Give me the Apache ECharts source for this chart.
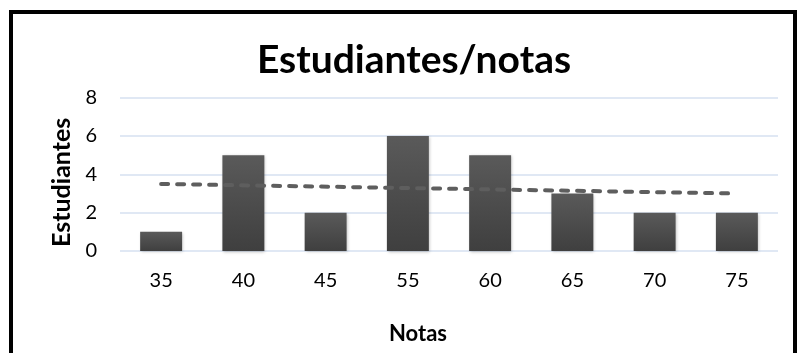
<!DOCTYPE html>
<html>
<head>
<meta charset="utf-8">
<script src="https://cdn.jsdelivr.net/npm/echarts@6/dist/echarts.min.js"></script>
<style>
  html, body { margin: 0; padding: 0; background: #fff; }
  #chart { width: 799px; height: 353px; }
</style>
</head>
<body>
<div id="chart"></div>
<script>
// Grades (x categories) and number of students per grade
const notas = ['35', '40', '45', '55', '60', '65', '70', '75'];
const estudiantes = [1, 5, 2, 6, 5, 3, 2, 2];
// Linear trend line endpoints (first and last category)
const tendencia = [['35', 3.5], ['75', 3.0]];
// Y axis ticks
const yTicks = [0, 2, 4, 6, 8];

const FONT = 'Lato';
const chart = echarts.init(document.getElementById('chart'), null, { renderer: 'canvas' });

chart.setOption({
  animation: false,
  backgroundColor: '#ffffff',
  title: {
    text: 'Estudiantes/notas',
    left: 409,
    top: 36,
    textAlign: 'center',
    textStyle: { fontFamily: FONT, fontWeight: 'bold', fontSize: 39, color: '#000' }
  },
  graphic: [{
    type: 'rect',
    shape: { x: 11, y: 12, width: 784, height: 400 },
    style: { fill: 'none', stroke: '#000', lineWidth: 4 },
    z: 100
  }],
  grid: { left: 120, right: 21, top: 97.7, bottom: 102, containLabel: false },
  xAxis: {
    type: 'category',
    data: notas,
    name: 'Notas',
    nameLocation: 'middle',
    nameGap: 72,
    nameTextStyle: { fontFamily: FONT, fontWeight: 'bold', fontSize: 22, color: '#000', padding: [0, 62, 0, 0] },
    axisLine: { show: false },
    axisTick: { show: false },
    axisLabel: { fontFamily: FONT, fontSize: 20, color: '#000', margin: 20 }
  },
  yAxis: {
    type: 'value',
    min: yTicks[0],
    max: yTicks[yTicks.length - 1],
    interval: 2,
    name: 'Estudiantes',
    nameLocation: 'middle',
    nameGap: 43,
    nameTextStyle: { fontFamily: FONT, fontWeight: 'bold', fontSize: 25, color: '#000', padding: [0, 16, 0, 0] },
    axisLine: { show: false },
    axisTick: { show: false },
    axisLabel: { fontFamily: FONT, fontSize: 20, color: '#000', margin: 23 },
    splitLine: { lineStyle: { color: '#d6e0f0', width: 1.5 } }
  },
  series: [
    {
      name: 'Estudiantes',
      type: 'bar',
      data: estudiantes,
      barWidth: '51%',
      itemStyle: {
        color: new echarts.graphic.LinearGradient(0, 0, 0, 1, [
          { offset: 0, color: '#5a5a5a' },
          { offset: 1, color: '#3f3f3f' }
        ]),
        shadowColor: 'rgba(0,0,0,0.25)',
        shadowBlur: 3,
        shadowOffsetX: 1,
        shadowOffsetY: 1
      },
      z: 2
    },
    {
      name: 'Tendencia',
      type: 'line',
      data: tendencia,
      symbol: 'none',
      lineStyle: { color: '#5e5e5e', width: 4, type: [7, 9], cap: 'round' },
      z: 3
    }
  ]
});
</script>
</body>
</html>
